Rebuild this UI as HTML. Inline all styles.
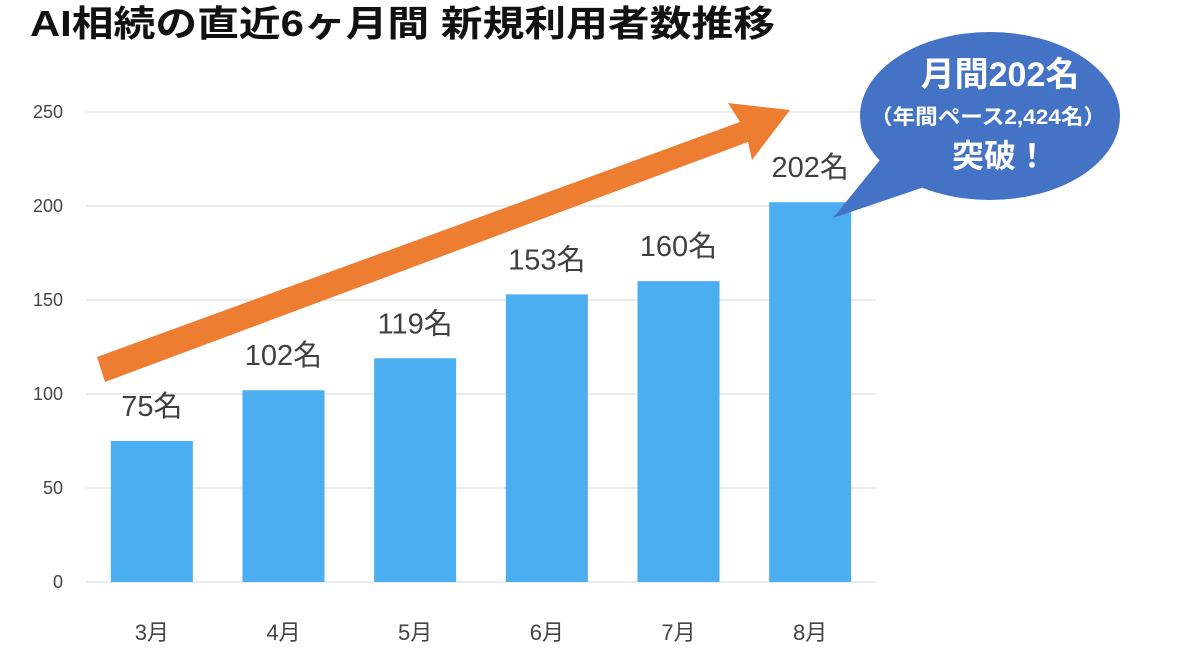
<!DOCTYPE html>
<html><head><meta charset="utf-8"><style>
body{margin:0;background:#fff;width:1200px;height:650px;overflow:hidden}
svg{font-family:"Liberation Sans","Noto Sans CJK JP",sans-serif}
</style></head><body>
<svg width="1200" height="650">
<text x="30" y="36" font-size="36" font-weight="bold" fill="#111" textLength="745" lengthAdjust="spacingAndGlyphs">AI相続の直近6ヶ月間 新規利用者数推移</text>
<g id="grid"></g><g id="bars"></g>
<polygon points="97,357 740,122 728,103 790,110 752,160 748,142 105,382" fill="#ED7D31"/>
<g>
<polygon points="880,160 930,185 833,218" fill="#4472C4"/>
<ellipse cx="990" cy="116" rx="130" ry="84" fill="#4472C4"/>
<text x="1000" y="86" font-size="34" font-weight="bold" fill="#fff" text-anchor="middle">月間202名</text>
<text x="988" y="124" font-size="21" font-weight="bold" fill="#fff" text-anchor="middle" textLength="236" lengthAdjust="spacingAndGlyphs">（年間ペース2,424名）</text>
<text x="1000" y="167" font-size="32" font-weight="bold" fill="#fff" text-anchor="middle">突破！</text>
</g>
</svg>
<script>
const categories=["3月","4月","5月","6月","7月","8月"];
const values=[75,102,119,153,160,202];
const ticks=[0,50,100,150,200,250];
const NS="http://www.w3.org/2000/svg";
const x0=86,x1=876,y0=582,yTop=112,maxV=250;
const band=(x1-x0)/categories.length,bw=82;
const y=v=>y0-(v/maxV)*(y0-yTop);
const xc=i=>x0+band*(i+0.5);
function mk(t,a,p){const e=document.createElementNS(NS,t);for(const k in a)e.setAttribute(k,a[k]);p.appendChild(e);return e;}
const g=document.getElementById('grid'),b=document.getElementById('bars');
ticks.forEach(t=>{
 const l=mk('line',{x1:x0,x2:x1,y1:y(t),y2:y(t),stroke:'#d9d9d9','stroke-width':1},g);
 
 
 const tx=mk('text',{x:63,y:y(t)+6,'font-size':18,fill:'#444','text-anchor':'end'},g);
 tx.textContent=t;
 
 
});
categories.forEach((c,i)=>{
 const r=mk('rect',{x:xc(i)-bw/2,y:y(values[i]),width:bw,height:y0-y(values[i]),fill:'#4BAEF0'},b);
 
 
 const lb=mk('text',{x:xc(i),y:y(values[i])-25,'font-size':29,fill:'#404040','text-anchor':'middle'},b);
 lb.textContent=values[i]+'名';
 
 
 const xl=mk('text',{x:xc(i),y:640,'font-size':22,fill:'#444','text-anchor':'middle'},b);
 xl.textContent=c;
 
 
});
</script>
</body></html>
